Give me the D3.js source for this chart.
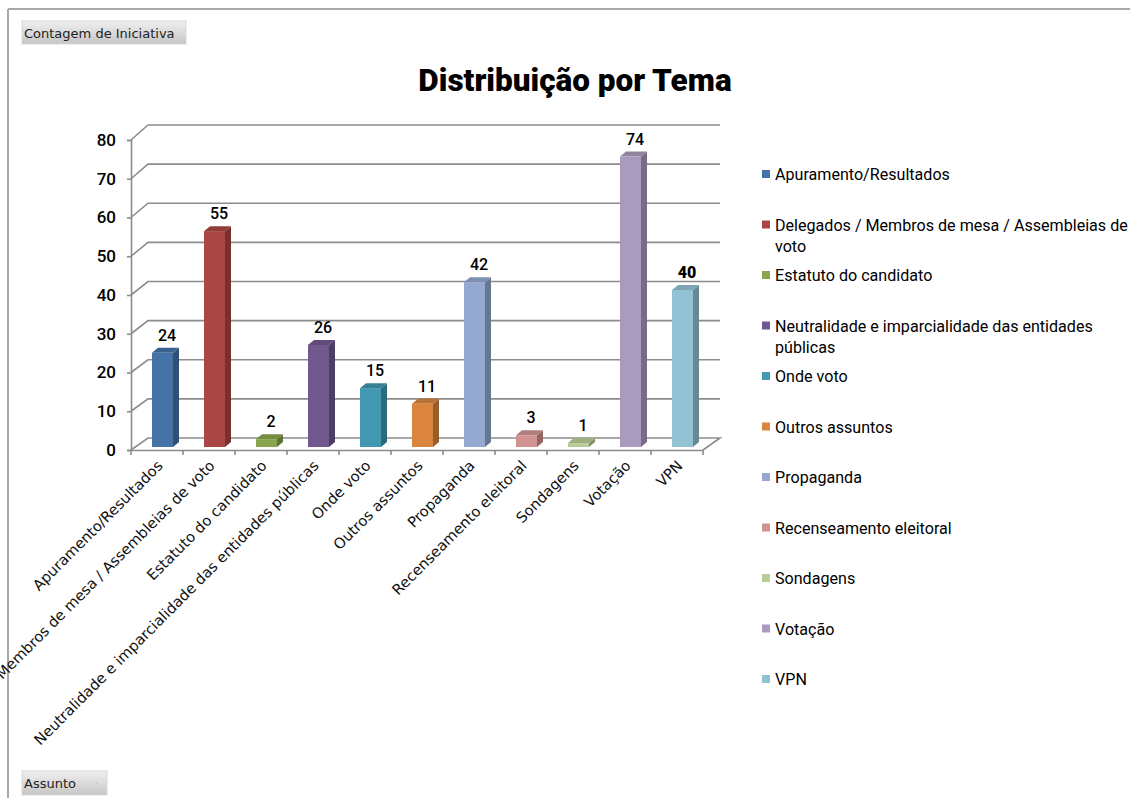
<!DOCTYPE html>
<html>
<head>
<meta charset="utf-8">
<script src="https://cdn.jsdelivr.net/npm/d3@7/dist/d3.min.js"></script>
<style>
  body { margin: 0; background: #fff; }
  svg { display: block; }
  .num { font-family: Roboto, sans-serif; }
  .ui { font-family: "DejaVu Sans", sans-serif; }
</style>
</head>
<body>
<svg id="chart" width="1130" height="798"></svg>
<script>
// categorias (Assunto) e contagem de iniciativas
var categories = ["Apuramento/Resultados",
                  "Delegados / Membros de mesa / Assembleias de voto",
                  "Estatuto do candidato",
                  "Neutralidade e imparcialidade das entidades públicas",
                  "Onde voto",
                  "Outros assuntos",
                  "Propaganda",
                  "Recenseamento eleitoral",
                  "Sondagens",
                  "Votação",
                  "VPN"];
var values = [24, 55, 2, 26, 15, 11, 42, 3, 1, 74, 40];
var yTicks = [0, 10, 20, 30, 40, 50, 60, 70, 80];
var palette = ["#4572A7", "#AA4643", "#89A54E", "#71588F", "#4198AF", "#DB843D",
               "#93A9CF", "#D19392", "#B9CD96", "#A99BBD", "#92C3D5"];
// legend labels wrap as in the original
var legendLines = [["Apuramento/Resultados"],
                   ["Delegados / Membros de mesa / Assembleias de", "voto"],
                   ["Estatuto do candidato"],
                   ["Neutralidade e imparcialidade das entidades", "públicas"],
                   ["Onde voto"], ["Outros assuntos"], ["Propaganda"],
                   ["Recenseamento eleitoral"], ["Sondagens"], ["Votação"], ["VPN"]];

var svg = d3.select("#chart");
var gridColor = "#8c8c8c";

// 3d-ish planes: front axis, back wall, bars in between
var x = d3.scaleBand().domain(categories).range([131, 703]);
var yFront = d3.scaleLinear().domain([0, 80]).range([450, 140]);
var yBack = d3.scaleLinear().domain([0, 80]).range([438, 125]);
var yBar = d3.scaleLinear().domain([0, 80]).range([447, 133]);
var depth = 17;

// frame
svg.append("line").attr("x1", 8).attr("y1", 9).attr("x2", 1130).attr("y2", 9)
   .attr("stroke", "#a8a8a8").attr("stroke-width", 2);
svg.append("line").attr("x1", 8).attr("y1", 9).attr("x2", 8).attr("y2", 798)
   .attr("stroke", "#a8a8a8").attr("stroke-width", 2);

var grad = svg.append("defs").append("linearGradient")
   .attr("id", "btn").attr("x1", 0).attr("y1", 0).attr("x2", 0).attr("y2", 1);
grad.append("stop").attr("offset", "0%").attr("stop-color", "#efefef");
grad.append("stop").attr("offset", "100%").attr("stop-color", "#c6c6c6");

function button(bx, by, w, h, label) {
  svg.append("rect").attr("x", bx).attr("y", by).attr("width", w).attr("height", h)
     .attr("fill", "url(#btn)").attr("stroke", "#d8d8d8");
  svg.append("text").attr("class", "ui").attr("x", bx + 2).attr("y", by + h / 2 + 5)
     .attr("font-size", 13).attr("fill", "#222").text(label);
}
button(22, 21, 164, 23, "Contagem de Iniciativa");
button(22, 771, 85, 24, "Assunto");
svg.append("text").attr("x", 95).attr("y", 786).attr("font-size", 8)
   .attr("fill", "#999").text("·");

// title
svg.append("text").attr("x", 575).attr("y", 91).attr("text-anchor", "middle")
   .attr("font-family", "Roboto, sans-serif").style("font-weight", 900)
   .attr("font-size", 31.5).text("Distribuição por Tema");

// gridlines on back wall + diagonals to the front axis
var grid = svg.append("g").attr("stroke", gridColor).attr("stroke-width", 1.6).attr("fill", "none");
yTicks.forEach(function(t) {
  var xl = x.range()[0], xr = x.range()[1];
  if (t === 0) {
    grid.append("path").attr("d", "M" + xl + "," + yFront(t) + "L" + (xl + depth) + "," + yBack(t) +
      "L" + (xr + depth) + "," + yBack(t) + "L" + xr + "," + yFront(t));
  } else {
    grid.append("path").attr("d", "M" + xl + "," + yFront(t) + "L" + (xl + depth) + "," + yBack(t) +
      "L" + (xr + depth) + "," + yBack(t));
  }
});

// y axis
var yAxis = svg.append("g").attr("transform", "translate(" + x.range()[0] + ",0)")
   .call(d3.axisLeft(yFront).tickValues(yTicks).tickSize(4).tickPadding(11));
yAxis.select(".domain").attr("stroke", gridColor).attr("stroke-width", 1.6);
yAxis.selectAll(".tick line").attr("stroke", gridColor).attr("stroke-width", 1.6);
yAxis.selectAll("text").attr("class", "num").attr("font-size", 17).attr("fill", "#000")
   .style("font-weight", 500);

// x axis
var xAxis = svg.append("g").attr("transform", "translate(0," + yFront(0) + ")")
   .call(d3.axisBottom(x).tickSize(0).tickFormat(""));
xAxis.select(".domain").attr("stroke", gridColor).attr("stroke-width", 1.6);
var bounds = categories.map(function(c) { return x(c); }).concat([x.range()[1]]);
xAxis.selectAll(".sep").data(bounds).enter().append("line").attr("class", "sep")
   .attr("x1", function(d) { return d; }).attr("x2", function(d) { return d; })
   .attr("y1", 0).attr("y2", 5).attr("stroke", gridColor).attr("stroke-width", 1.6);

// category labels, rotated
svg.append("g").selectAll("text").data(categories).enter().append("text")
   .attr("class", "ui").attr("font-size", 14.7).attr("fill", "#111")
   .attr("text-anchor", "end")
   .attr("transform", function(d) {
     return "translate(" + (x(d) + x.bandwidth() / 2 + 3) + "," + (yFront(0) + 13) + ") rotate(-45)";
   })
   .attr("dy", "0.35em")
   .text(function(d) { return d; });

// bars (front face, side, top)
var bw = 21, off = 21, sd = 6, tdy = 5;
var bars = svg.append("g").selectAll("g").data(values).enter().append("g");
bars.each(function(v, i) {
  var g = d3.select(this);
  var c = palette[i];
  var x0 = x(categories[i]) + off;
  var yt = yBar(v), yb = yBar(0);
  g.append("path").attr("fill", d3.color(c).darker(1.0))
   .attr("d", "M" + (x0 + bw) + "," + yb + "L" + (x0 + bw) + "," + yt + "L" + (x0 + bw + sd) + "," + (yt - tdy) +
     "L" + (x0 + bw + sd) + "," + (yb - tdy) + "Z");
  g.append("path").attr("fill", d3.color(c).darker(0.45))
   .attr("d", "M" + x0 + "," + yt + "L" + (x0 + sd) + "," + (yt - tdy) + "L" + (x0 + bw + sd) + "," + (yt - tdy) +
     "L" + (x0 + bw) + "," + yt + "Z");
  g.append("rect").attr("x", x0).attr("y", yt).attr("width", bw).attr("height", yb - yt).attr("fill", c);
  g.append("text").attr("class", "num").attr("x", x0 + 15).attr("y", yt - 12)
   .attr("text-anchor", "middle").attr("font-size", 16)
   .style("font-weight", categories[i] === "VPN" ? 900 : 500)
   .text(v);
});

// legend
var legend = svg.append("g").selectAll("g").data(categories).enter().append("g")
   .attr("transform", function(d, i) { return "translate(762," + (180 + i * 50.5) + ")"; });
legend.append("rect").attr("x", 0).attr("y", -10).attr("width", 8).attr("height", 8)
   .attr("fill", function(d, i) { return palette[i]; });
legend.append("text").attr("class", "num").style("font-weight", 400).attr("font-size", 16.1)
   .selectAll("tspan").data(function(d, i) { return legendLines[i]; }).enter().append("tspan")
   .attr("x", 13).attr("y", function(d, j) { return j * 21.5; })
   .text(function(d) { return d; });
</script>
</body>
</html>
